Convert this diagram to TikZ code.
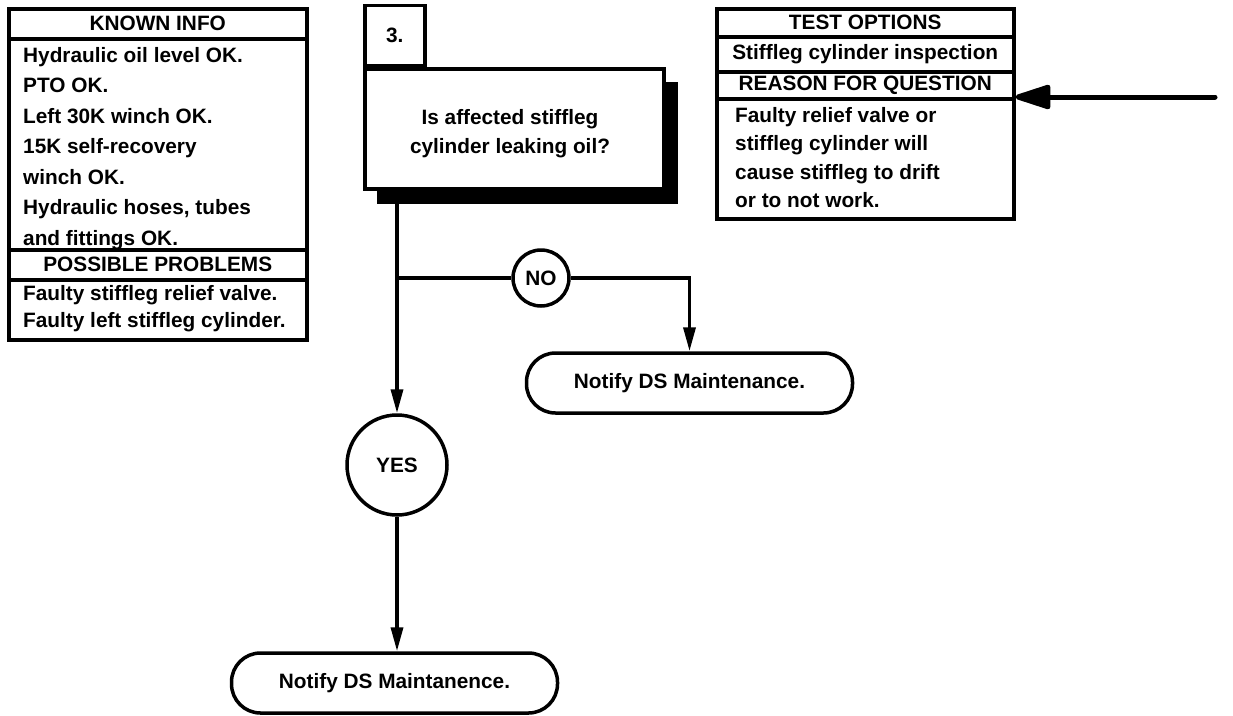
\documentclass[tikz,border=0pt]{standalone}
\usepackage{fontspec}
\setmainfont{Liberation Sans}
\usetikzlibrary{arrows.meta}
\begin{document}
\begin{tikzpicture}[x=1pt,y=-1pt,
  txt/.style={font=\bfseries\fontsize{20.8}{30.5}\selectfont},
  cell/.style={txt,draw,line width=3.5pt,inner sep=0pt,anchor=north west},
  headcell/.style={cell,align=center},
  bodytxt/.style={txt,inner sep=0pt,anchor=north west,align=left},
  conn/.style={line width=3.5pt,-{Triangle[length=24pt,width=12pt]}},
  plain/.style={line width=3.5pt},
  term/.style={txt,draw,line width=3.5pt,rounded corners=29pt,minimum width=326pt,minimum height=60pt},
  circ/.style={txt,draw,circle,line width=3.5pt,inner sep=0pt}]
\useasboundingbox (0,0) rectangle (1233,715);
% left panel
\node[headcell,minimum width=298pt,minimum height=30pt] (kh) at (7,7) {KNOWN INFO};
\node[cell,minimum width=298pt,minimum height=211pt] (kb) at (7,37) {};
\node[bodytxt] (kbt) at (23,47)
  {Hydraulic oil level OK.\\PTO OK.\\Left 30K winch OK.\\15K self-recovery\\winch OK.\\Hydraulic hoses, tubes\\and fittings OK.};
\node[headcell,minimum width=298pt,minimum height=30pt] (ph) at (7,248) {POSSIBLE PROBLEMS};
\node[cell,minimum width=298pt,minimum height=60pt] (pb) at (7,278) {};
\node[bodytxt,font=\bfseries\fontsize{20.8}{27}\selectfont] (pbt) at (23,285)
  {Faulty stiffleg relief valve.\\Faulty left stiffleg cylinder.};
% right panel
\node[headcell,minimum width=297pt,minimum height=28pt] (th) at (715,7) {TEST OPTIONS};
\node[headcell,minimum width=297pt,minimum height=35pt] (tb) at (715,35) {\raisebox{-2pt}{Stiffleg cylinder inspection}};
\node[headcell,minimum width=297pt,minimum height=27pt] (rh) at (715,70) {REASON FOR QUESTION};
\node[cell,minimum width=297pt,minimum height=120pt] (rb) at (715,97) {};
\node[bodytxt,font=\bfseries\fontsize{20.8}{28.5}\selectfont] (rbt) at (735,107)
  {Faulty relief valve or\\stiffleg cylinder will\\cause stiffleg to drift\\or to not work.};
% question
\node[draw,fill=black,line width=1pt,minimum width=300pt,minimum height=121pt,anchor=north west,inner sep=0pt] (qs) at (377,82) {};
\node[cell,fill=white,minimum width=299pt,minimum height=120pt] (q) at (363,67) {};
\node[txt,align=center,inner sep=0pt,anchor=north,font=\bfseries\fontsize{20.8}{29}\selectfont] (qt) at (510,109) {Is affected stiffleg\\cylinder leaking oil?};
\node[headcell,minimum width=60pt,minimum height=60pt,anchor=south west] (qn) at (363,67) {3.};
% arrow into test options
\coordinate (ain) at (1215,97);
\draw[line width=5pt,line cap=round,-{Triangle[length=41pt,width=25pt,round=false]}] (ain) -- (rb.north east);
% outcomes
\node[circ,minimum size=56pt] (no) at (541,278) {NO};
\node[circ,minimum size=100pt] (yes) at (397,465) {YES};
\node[term] (n1) at (689.5,383) {Notify DS Maintenance.};
\node[term] (n2) at (394.5,683) {Notify DS Maintanence.};
\coordinate (br) at (397,278);
\draw[conn] (yes |- qs.south) -- (yes.north);
\draw[plain] (br) -- (no.west);
\draw[conn] (no.east) -| (n1.north);
\draw[conn] (yes.south) -- (yes.south |- n2.north);
\end{tikzpicture}
\end{document}
